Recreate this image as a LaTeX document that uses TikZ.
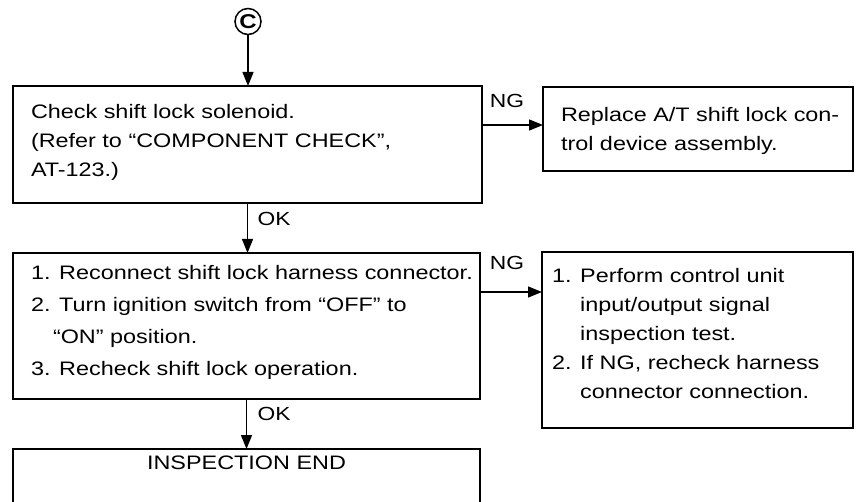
\documentclass[tikz,border=0pt]{standalone}
\usepackage{fontspec}
\setmainfont{Liberation Sans}[FakeStretch=1.2]
\usetikzlibrary{arrows.meta}
\begin{document}
\begin{tikzpicture}[x=1pt,y=-1pt,
  box/.style={draw, line width=1.6pt, inner sep=0pt, outer sep=0pt},
  txt/.style={inner sep=0pt, outer sep=0pt, anchor=north west, font=\fontsize{19.5}{#1}\selectfont},
  lbl/.style={inner sep=0pt, font=\fontsize{19}{22}\selectfont},
  arr/.style={line width=1.3pt, -{Triangle[length=14pt,width=11pt]}}
]
\useasboundingbox (0,0) rectangle (858,502);
% start marker
\node[circle, draw, line width=1.5pt, minimum size=26pt, inner sep=0pt, font=\fontsize{20}{22}\selectfont\bfseries] (c) at (248,21.5) {C};
% boxes
\node[box, minimum width=469pt, minimum height=117pt] (b1) at (247.5,144.5) {};
\node[box, minimum width=310pt, minimum height=84pt] (b2) at (698,129) {};
\node[box, minimum width=467pt, minimum height=146pt] (b3) at (246.5,326) {};
\node[box, minimum width=311pt, minimum height=176pt] (b5) at (697.5,340) {};
\node[box, minimum width=467pt, minimum height=61pt] (b4) at (246.5,479.5) {};
% texts
\node[txt=29] (t1) at (31,98.7) {\begin{tabular}{@{}l@{}}Check shift lock solenoid.\\(Refer to “COMPONENT CHECK”,\\AT-123.)\end{tabular}};
\node[txt=29] (t2) at (561,101.7) {\begin{tabular}{@{}l@{}}Replace A/T shift lock con-\\trol device assembly.\end{tabular}};
\node[txt=32] (t3) at (31,256.6) {\begin{tabular}{@{}l@{}}1. Reconnect shift lock harness connector.\\2. Turn ignition switch from “OFF” to\\\hspace{22pt}“ON” position.\\3. Recheck shift lock operation.\end{tabular}};
\node[txt=29] (t5) at (552,261.7) {\begin{tabular}{@{}l@{}}1. Perform control unit\\\phantom{1. }input/output signal\\\phantom{1. }inspection test.\\2. If NG, recheck harness\\\phantom{2. }connector connection.\end{tabular}};
\node[inner sep=0pt, anchor=base, font=\fontsize{19.5}{24}\selectfont] (t4) at (246.5,469) {INSPECTION END};
% connectors
\draw[arr] (c.south) -- (c.south |- b1.north);
\draw[arr] (b1.east |- 0,125) -- (b2.west |- 0,125);
\draw[arr] (b1.south) -- (b1.south |- b3.north);
\draw[arr] (b3.east |- 0,292) -- (b5.west |- 0,292);
\draw[arr] (b3.south) -- (b3.south |- b4.north);
% labels
\node[lbl] (ng1) at (507,101) {NG};
\node[lbl] (ng2) at (507,263) {NG};
\node[lbl] (ok1) at (274,219) {OK};
\node[lbl] (ok2) at (274,414) {OK};
\end{tikzpicture}
\end{document}
